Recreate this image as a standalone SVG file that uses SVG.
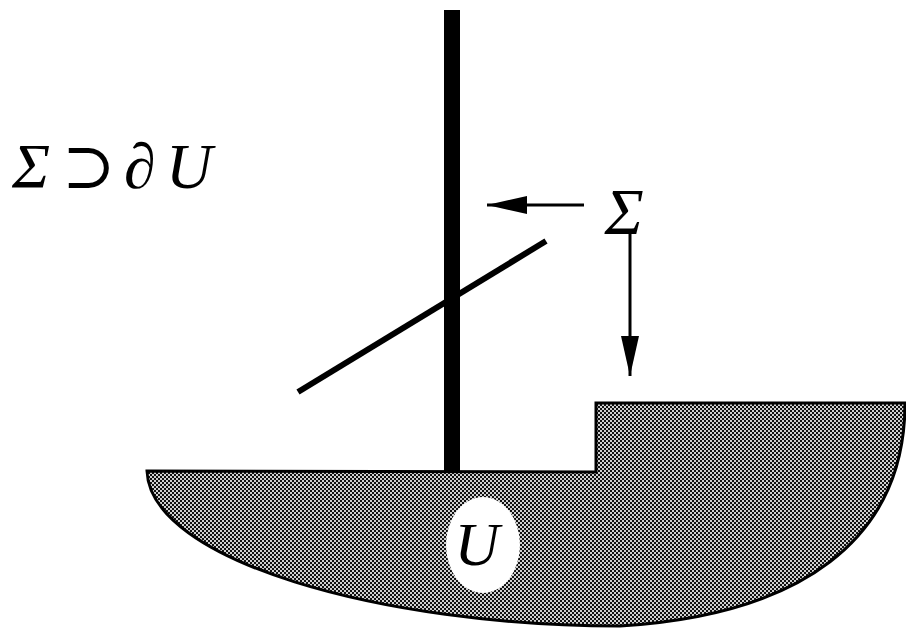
<svg xmlns="http://www.w3.org/2000/svg" width="906" height="629" viewBox="0 0 906 629">
<style>
.t{font-family:"Liberation Serif","DejaVu Serif",serif;font-style:italic;fill:#000}
.ln{stroke:#000;fill:none}
</style>
<defs>
<pattern id="ht" width="4" height="4" patternUnits="userSpaceOnUse">
<rect width="4" height="4" fill="#d0d0d0"/>
<rect x="0" y="0" width="2" height="2" fill="#111"/>
<rect x="2" y="2" width="2" height="2" fill="#111"/>
</pattern>
<marker id="ah" viewBox="0 0 40 20" refX="40" refY="10" markerWidth="40" markerHeight="20" markerUnits="userSpaceOnUse" orient="auto">
<path d="M0,1 L40,10 L0,19 Z" fill="#000"/>
</marker>
</defs>
<g id="region-U">
<path d="M147,471 L596,472 L596,403 L905,403 C905,540 800,615 620,626 C380,626 150,560 147,471 Z" fill="url(#ht)" stroke="#000" stroke-width="3" stroke-linejoin="miter"/>
<ellipse cx="483" cy="545" rx="37" ry="48" fill="#fff"/>
<text class="t" x="477" y="565" font-size="62" text-anchor="middle">U</text>
</g>
<g id="bar">
<rect x="444" y="10" width="16" height="463" fill="#000"/>
</g>
<g id="slant">
<line class="ln" x1="298" y1="392" x2="546" y2="241" stroke-width="6"/>
</g>
<g id="label-left">
<text class="t" font-size="64" y="188"><tspan x="12">Σ</tspan><tspan x="62" font-style="normal">⊃</tspan><tspan x="124">∂</tspan><tspan x="166">U</tspan></text>
</g>
<g id="label-sigma">
<text class="t" x="624" y="234" font-size="66" text-anchor="middle">Σ</text>
</g>
<g id="connectors">
<line class="ln" x1="584" y1="205" x2="487" y2="205" stroke-width="3" marker-end="url(#ah)"/>
<line class="ln" x1="630" y1="234" x2="630" y2="376" stroke-width="3" marker-end="url(#ah)"/>
</g>
</svg>
